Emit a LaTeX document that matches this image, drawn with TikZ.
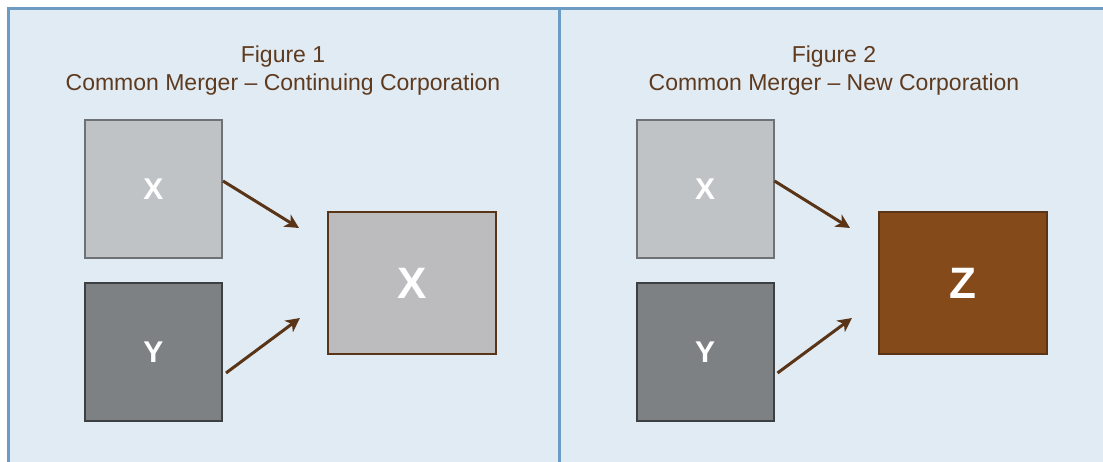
\documentclass[tikz,border=0pt]{standalone}
\usepackage{fontspec}
\setmainfont{Liberation Sans}
\usetikzlibrary{arrows.meta}
\definecolor{panelbg}{HTML}{E1EBF3}
\definecolor{panelline}{HTML}{6C9CC3}
\definecolor{brownline}{HTML}{5A3416}
\definecolor{titlebrown}{HTML}{5E3A1F}
\definecolor{lightfill}{HTML}{C0C3C6}
\definecolor{lightedge}{HTML}{6E7175}
\definecolor{darkfill}{HTML}{7E8184}
\definecolor{darkedge}{HTML}{3C3F43}
\definecolor{resultfill}{HTML}{BCBBBE}
\definecolor{newfill}{HTML}{844A19}
\begin{document}
\begin{tikzpicture}[x=1pt,y=-1pt,
  smallbox/.style={draw, line width=2pt, minimum width=137pt, minimum height=138pt,
    inner sep=0pt, text=white, font=\bfseries\fontsize{30}{36}\selectfont},
  lightbox/.style={smallbox, fill=lightfill, draw=lightedge},
  darkbox/.style={smallbox, fill=darkfill, draw=darkedge},
  bigbox/.style={draw=brownline, line width=2pt, minimum width=168pt, minimum height=142pt,
    inner sep=0pt, text=white, font=\bfseries\fontsize{44}{52}\selectfont},
  title/.style={text=titlebrown, align=center, font=\fontsize{23}{28}\selectfont},
  merge/.style={draw=brownline, line width=3pt, -{Stealth[length=14pt,width=14pt,inset=4pt]}}
]
\useasboundingbox (0,0) rectangle (1103,462);
\begin{scope}
  \clip (0,0) rectangle (1103,462);
  \fill[panelbg] (8,9) rectangle (1120,480);
  \draw[panelline, line width=3pt] (8,480) -- (8,9) -- (1120,9);
  \draw[panelline, line width=3pt] (559,9) -- (559,480);
\end{scope}

% Figure 1: continuing corporation
\node[title] (t1) at (283,71) {Figure 1\\Common Merger -- Continuing Corporation};
\node[lightbox] (x1) at (153.5,189) {X};
\node[darkbox] (y1) at (153.5,352) {Y};
\node[bigbox, fill=resultfill] (r1) at (412,283) {X};
\coordinate (e1) at (299,228);
\coordinate (e2) at (300,318);
\draw[merge] ([yshift=8pt]x1.east) -- (e1);
\draw[merge] ([yshift=-21pt,xshift=3pt]y1.east) -- (e2);

% Figure 2: new corporation
\node[title] (t2) at (834,71) {Figure 2\\Common Merger -- New Corporation};
\node[lightbox] (x2) at (705,189) {X};
\node[darkbox] (y2) at (705,352) {Y};
\node[bigbox, fill=newfill] (r2) at (963,283) {Z};
\coordinate (e3) at (850,228);
\coordinate (e4) at (852,318);
\draw[merge] ([yshift=8pt]x2.east) -- (e3);
\draw[merge] ([yshift=-21pt,xshift=3pt]y2.east) -- (e4);
\end{tikzpicture}
\end{document}
